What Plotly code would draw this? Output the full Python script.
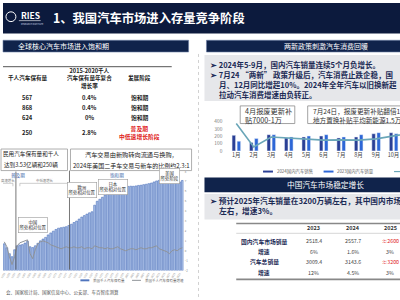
import plotly.graph_objects as go

# ---------------- data ----------------
us_years = [str(y) for y in range(1953, 2023)]
us_own = [270, 230, 170, 140, 210, 250, 258, 262, 277, 295,
          240, 232, 250, 275, 300, 318, 335, 360, 380, 398,
          415, 428, 433, 438, 443, 455, 468, 485, 500, 520,
          540, 555, 570, 583, 594, 660, 700, 720, 740, 760,
          778, 792, 798, 802, 830, 851, 850, 848, 850, 852,
          851, 855, 860, 862, 868, 872, 878, 884, 895, 905,
          911, 905, 900, 895, 891, 890, 892, 890, 895, 910]
us_growth = [0.9, 0.4, -0.6, -1.4, -0.6, 0.5, 0.8, 0.9, 1.0, 1.1,
             -0.3, -0.8, 0.1, 0.7, 0.9, 1.0, 0.9, 0.8, 0.6, 0.5,
             0.4, 0.3, 0.2, 0.3, 0.4, 0.3, 0.3, 0.4, 0.3, 0.3,
             0.4, 0.2, 0.3, 0.3, 0.2, 0.5, 0.4, 0.3, 0.3, 0.2,
             0.3, 0.2, 0.2, 0.3, 0.4, 0.2, 0.1, 0.0, 0.1, 0.2,
             0.2, 0.1, 0.2, 0.3, 0.2, 0.2, 0.3, 0.3, 0.4, 0.5,
             0.2, 0.1, 0.0, -0.1, -0.3, 0.0, 0.1, 0.0, 0.2, 0.3]
growth_ticks = [-2, -1, 0, 1, 2, 3, 4, 5, 6, 7, 8]

months = ["1月", "2月", "3月", "4月", "5月", "6月", "7月", "8月", "9月", "10月", "11月", "12月"]
sales_2024 = [213, 116, 222, 178, 191, 204, 178, 191, 235, 249, 290, 310]
sales_2023 = [133, 169, 222, 191, 204, 222, 191, 222, 249, 235, 260, 280]
yoy = [50, -25, 7, 4, 0, -3, -2, -3, 1, 12, 20, 10]

lt_head = ["千人汽车保有量", "2015-2020千人<br>汽车保有量年复合<br>增长率", "发展阶段"]
lt_owner = ["567", "868", "624", "250"]
lt_cagr = ["0.4%", "0.4%", "0%", "2.8%"]
lt_stage = ["饱和期", "饱和期", "饱和期", "普及期<br>中低速增长阶段"]

rt_cols = ["2023", "2024", "2025"]
rt_rows = ["国内汽车市场销量", "增速", "汽车总销量", "增速"]
rt_vals = [["2518.4", "2557.7", "≈2600"], ["6%", "1.6%", "3%"],
           ["3009.4", "3143.6", "≈3200"], ["12%", "4.5%", "3%"]]

FONT = "Noto Sans CJK SC"
NAVY = "#0c1a3d"
BAND = "#10234b"


def X(p):
    return p / 400.0


def Y(p):
    return 1 - p / 300.0


ann = []
shapes = []


def txt(x, y, s, size, color="#222", bold=False, anchor="center", **kw):
    if bold:
        s = "<b>" + s + "</b>"
    d = dict(x=X(x), y=Y(y), xref="paper", yref="paper", text=s, showarrow=False,
             xanchor=anchor, yanchor="middle", align=kw.pop("align", anchor if anchor != "center" else "center"),
             font=dict(family=FONT, size=size, color=color))
    d.update(kw)
    ann.append(d)


def rect(x0, y0, x1, y1, fill, line=None, lw=0):
    shapes.append(dict(type="rect", xref="paper", yref="paper", x0=X(x0), x1=X(x1), y0=Y(y1), y1=Y(y0),
                       fillcolor=fill, line=dict(color=line or fill, width=lw), layer="below"))


def line(x0, y0, x1, y1, color="#555", w=1, dash="solid", layer="above"):
    shapes.append(dict(type="line", xref="paper", yref="paper", x0=X(x0), x1=X(x1), y0=Y(y0), y1=Y(y1),
                       line=dict(color=color, width=w, dash=dash), layer=layer))


fig = go.Figure()

# left chart
fig.add_trace(go.Bar(x=us_years, y=us_own, width=0.72, xaxis="x", yaxis="y",
                     marker=dict(color="#a9bee5", line=dict(color="#4f74bd", width=0.6)),
                     name="美国千人汽车保有量", showlegend=False))
fig.add_trace(go.Scatter(x=us_years, y=us_growth, mode="lines", xaxis="x", yaxis="y2",
                         line=dict(color="#8f9398", width=1), name="美国千人汽车保有量增速", showlegend=False))
# right chart
fig.add_trace(go.Bar(x=months, y=sales_2024, width=0.2, offset=-0.24, xaxis="x2", yaxis="y3",
                     marker=dict(color="#2a3f95"), name="2024国内汽车销售", showlegend=False))
fig.add_trace(go.Bar(x=months, y=sales_2023, width=0.2, offset=0.05, xaxis="x2", yaxis="y3",
                     marker=dict(color="#2d66d6"), name="2023国内汽车销量", showlegend=False))
fig.add_trace(go.Scatter(x=months, y=yoy, mode="lines", xaxis="x2", yaxis="y4",
                         line=dict(color="#6aa6b8", width=1.6), name="同比", showlegend=False))

# ---------------- header ----------------
rect(0, 0, 400, 31, NAVY)
shapes.append(dict(type="circle", xref="paper", yref="paper", x0=X(3), x1=X(13), y0=Y(19), y1=Y(9),
                   line=dict(color="white", width=1)))
txt(16, 12, "RIES", 8.5, "white", True, "left")
line(16, 18, 38, 18, "white", 0.6)
txt(16, 21, "RESEARCH INSTITUTE", 2.2, "#cfd6e6", False, "left")
txt(48, 15, "1、我国汽车市场进入存量竞争阶段", 12.3, "white", True, "left")

# bands
rect(0, 38, 187, 50, BAND, "#6d7fa6", 0.6)
txt(13, 44, "全球核心汽车市场进入饱和期", 7, "white", False, "left")
rect(205, 38, 403, 50, BAND, "#6d7fa6", 0.6)
txt(325, 44, "两新政策刺激汽车消费回暖", 7, "white", False, "center")
line(197, 52, 197, 300, "#c4c4c4", 0.8, "dot")

# left table
line(0, 65, 170, 65, "#555", 1)
colx = [25, 87, 138]
for cx, h in zip(colx, lt_head):
    txt(cx, 77, h, 5.6, "#1a1a1a", True)
rows_y = [96, 106.5, 117, 132]
for i, ry in enumerate(rows_y):
    txt(colx[0], ry, lt_owner[i], 5.8, "#222", True)
    txt(colx[1], ry, lt_cagr[i], 5.8, "#222", True)
    col = "#e0221b" if "普及" in lt_stage[i] else "#1a1a1a"
    txt(colx[2], ry, lt_stage[i], 5.8, col, True)

# text boxes
rect(-2, 149, 65, 171, "white", "#9a9a9a", 0.8)
txt(58, 154.5, "民用汽车保有量和千人", 5.6, "#222", False, "right")
txt(57, 165.5, "达到3.53亿辆和250辆", 5.6, "#222", False, "right")
rect(68, 149, 190, 171, "white", "#9a9a9a", 0.8)
txt(129, 154.5, "汽车交易由新购转向流通与换购，", 6.2, "#222")
txt(129, 165.5, "2024年美国二手车交易与新车的比例约2.3:1", 6.0, "#222")

# left chart decorations
line(13, 172, 13, 272, "#555", 0.8)
line(67, 171, 67, 272, "#555", 0.8)
txt(15, 176, "普及期", 4.6, "#3a5fa8")
txt(115, 176, "饱和期", 4.6, "#3a5fa8")
txt(5, 181, "高速增长", 3.4, "#777")
txt(42, 181, "中低速增长", 3.4, "#777")
line(17, 184, 65, 184, "#999", 0.5)
line(17, 184, 17, 187, "#999", 0.5)
line(65, 184, 65, 187, "#999", 0.5)
line(0, 184, 10, 184, "#999", 0.5)
line(10, 184, 10, 187, "#999", 0.5)
for (bx, by, s) in [(30, 226.5, "中国<br>所处相对位置"), (80, 191, "欧洲<br>所处相对位置"),
                    (111, 187.5, "日本<br>所处相对位置"), (168, 176.5, "美国<br>所处阶段")]:
    ann.append(dict(x=X(bx), y=Y(by), xref="paper", yref="paper", text=s, showarrow=False,
                    xanchor="center", yanchor="middle", align="center",
                    font=dict(family=FONT, size=4.4, color="#333"),
                    bgcolor="white", bordercolor="#9a9a9a", borderwidth=0.6, borderpad=1))
# left legend
rect(78, 282, 87, 284, "#4f74bd")
txt(89, 283, "美国千人汽车保有量", 3.5, "#666", False, "left")
line(130, 283, 139, 283, "#8f9398", 1)
txt(141, 283, "美国千人汽车保有量增速", 3.5, "#666", False, "left")
txt(1, 295, "会、国家统计局、国家信息中心、公安部、车百智库测算", 4.5, "#555", False, "left")

# right grey box 1
rect(203, 53, 403, 100, "#e6e7ea")
BT = "#1b2a55"
txt(207, 62.5, "➢ 2024年5-9月，国内汽车销量连续5个月负增长。", 7.5, BT, True, "left")
txt(207, 72.5, "➢ 7月24 “两新” 政策升级后，汽车消费止跌企稳，国", 7.5, BT, True, "left")
txt(216, 83, "月、12月同比增超10%。2024年全年汽车以旧换新超", 7.5, BT, True, "left")
txt(216, 93, "拉动汽车消费增速由负转正。", 7.5, BT, True, "left")

# callout boxes
rect(239, 105, 294, 123, "white", "#8a8a8a", 0.8)
txt(242, 110, "4月报废更新补", 7.2, "#333", False, "left")
txt(242, 119, "贴7000-1万", 7.2, "#333", False, "left")
rect(307, 105, 410, 123, "white", "#8a8a8a", 0.8)
txt(310, 110, "7月24日，报废更新补贴翻倍1", 6.6, "#333", False, "left")
txt(310, 119, "地方置换补贴平均新能源1.5万", 6.6, "#333", False, "left")

# right legend
rect(262, 171, 272, 173, "#2a3f95")
txt(274, 172, "2024国内汽车销售", 4.4, "#666", False, "left")
rect(323, 171, 333, 173, "#2d66d6")
txt(335, 172, "2023国内汽车销量", 4.4, "#666", False, "left")
line(394, 172, 404, 172, "#6aa6b8", 1.2)

# band 2
rect(203, 178, 403, 193, BAND)
txt(325, 185.5, "中国汽车市场稳定增长", 7.7, "white")
rect(203, 195, 403, 221, "#e6e7ea")
txt(207, 202, "➢ 预计2025年汽车销量在3200万辆左右，其中国内市场", 7.7, BT, True, "left")
txt(216, 212, "左右，增速3%。", 7.7, BT, True, "left")

# right table
line(235, 225, 403, 225, "#888", 1.6)
line(235, 235, 403, 235, "#bbb", 0.6)
line(235, 282, 403, 282, "#888", 1.6)
rcx = [313, 353, 390]
for cx, c in zip(rcx, rt_cols):
    txt(cx, 230, c, 5.5, "#333", True)
rry = [243, 254, 264, 275]
for i, ry in enumerate(rry):
    txt(263, ry, rt_rows[i], 5.8, "#1b2a55", True)
    for j, cx in enumerate(rcx):
        v = rt_vals[i][j]
        col = "#e0221b" if v.startswith("≈") else "#444"
        txt(cx, ry, v, 5.3, col, False)

fig.update_layout(
    width=400, height=300, margin=dict(l=0, r=0, t=0, b=0),
    paper_bgcolor="white", plot_bgcolor="rgba(0,0,0,0)",
    font=dict(family=FONT), showlegend=False,
    annotations=ann, shapes=shapes, barmode="overlay",
    xaxis=dict(domain=[0, X(182)], range=[-0.5, 69.5], type="category",
               tickvals=us_years[::2], tickangle=-60,
               tickfont=dict(size=2.6, color="#888"), showgrid=False, showline=False, ticks=""),
    yaxis=dict(domain=[Y(273), Y(172)], range=[0, 1000], visible=False, showgrid=False),
    yaxis2=dict(domain=[Y(273), Y(172)], range=[-2, 8], overlaying="y", anchor="x", side="right",
                tickvals=growth_ticks, ticksuffix="%", tickfont=dict(size=2.8, color="#888"),
                showgrid=False, zeroline=False, showline=False),
    xaxis2=dict(domain=[X(222), 1], range=[-0.74, 9.37], anchor="y3", type="category",
                tickfont=dict(size=5.5, color="#444"), showgrid=False, showline=False, ticks=""),
    yaxis3=dict(domain=[Y(151), Y(119.5)], range=[0, 420], anchor="x2",
                tickvals=[0, 100, 200, 300, 400], tickfont=dict(size=4.8, color="#777"),
                showgrid=False, zeroline=False, showline=False),
    yaxis4=dict(domain=[Y(151), Y(119.5)], range=[-37.5, 61], anchor="x2", overlaying="y3",
                visible=False, showgrid=False),
)

fig.write_html("out.html")
